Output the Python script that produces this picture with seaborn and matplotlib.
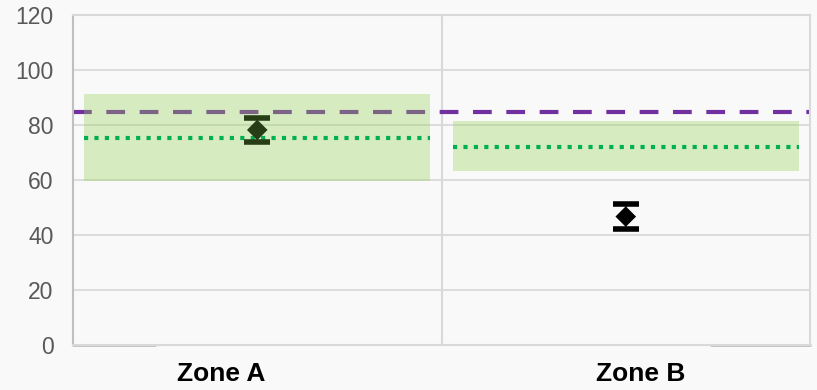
import matplotlib
matplotlib.use("Agg")
import matplotlib.pyplot as plt
import matplotlib.transforms as mtransforms
import seaborn as sns
import pandas as pd

# Zone summary values
zones = ["Zone A", "Zone B"]
range_low = [59.5, 63.4]
range_high = [91.3, 81.5]
zone_average = [75.3, 72.1]
measured = [78.2, 46.7]
measured_err = [4.5, 4.5]
target = 84.6
y_ticks = [0, 20, 40, 60, 80, 100, 120]

marker_colors = ["#263d16", "#000000"]

sns.set_theme(style="white")
plt.rcParams["font.family"] = ["Liberation Sans", "DejaVu Sans"]

fig = plt.figure(figsize=(8.17, 3.9), dpi=100, facecolor="#f9f9f9")
ax = fig.add_axes([73 / 817, 45 / 390, (810 - 73) / 817, (345 - 15) / 390])
ax.set_facecolor("#f9f9f9")

pos = list(range(len(zones)))
half = 0.47

# Target line across both zones
ax.axhline(target, color="#7030a0", lw=3, ls=(0, (4.5, 3.5)), zorder=2, clip_on=False)

# Acceptable ranges and zone averages
for i in pos:
    ax.fill_between([i - half, i + half], range_low[i], range_high[i],
                    color="#92d050", alpha=0.33, lw=0, zorder=3)
    ax.plot([i - half, i + half], [zone_average[i]] * 2, color="#00b050",
            lw=3, ls=(0, (1, 1.5)), zorder=4)

# Measured values with error bars
df = pd.DataFrame({"zone": pos, "value": measured, "err": measured_err})
for i in pos:
    ax.errorbar(df["zone"][i], df["value"][i], yerr=df["err"][i], fmt="none",
                ecolor="#808080", elinewidth=1.2, capsize=0, zorder=5)
    ax.errorbar(df["zone"][i], df["value"][i], yerr=df["err"][i], fmt="none",
                ecolor=marker_colors[i], elinewidth=0, capsize=9.5, capthick=4, zorder=5)
sns.scatterplot(data=df, x="zone", y="value", hue="zone", palette=marker_colors,
                marker="D", s=110, edgecolor="none", legend=False, zorder=6, ax=ax)

ax.set_xlim(-0.5, 1.5)
ax.set_ylim(0, 120)
ax.set_yticks(y_ticks)
ax.set_xticks(pos)
ax.set_xticklabels(zones, fontsize=19, fontweight="bold", color="black")
ax.tick_params(axis="y", labelsize=16.5, labelcolor="#595959", length=0, pad=14)
ax.tick_params(axis="x", length=0, pad=12)
ax.set_xlabel("")
ax.set_ylabel("")

# Category labels sit slightly off their tick centres
label_shift_px = [-36, 15]
for lbl, dx in zip(ax.get_xticklabels(), label_shift_px):
    lbl.set_transform(lbl.get_transform() +
                      mtransforms.ScaledTranslation(dx / 100, 0, fig.dpi_scale_trans))

# Gridlines and category separators
ax.grid(axis="y", color="#d9d9d9", lw=1.3)
ax.axvline(0.5, color="#d9d9d9", lw=1.5, zorder=1)
for s in ["left", "right", "top", "bottom"]:
    ax.spines[s].set_color("#d9d9d9")
    ax.spines[s].set_linewidth(1.5)
ax.spines["left"].set_color("#c0c0c0")
ax.set_axisbelow(True)

# Darker baseline stubs at both ends
ax.plot([0, 82 / 737], [0, 0], transform=ax.transAxes, color="#bfbfbf", lw=2, clip_on=False, zorder=1)
ax.plot([638 / 737, 1], [0, 0], transform=ax.transAxes, color="#bfbfbf", lw=2, clip_on=False, zorder=1)

fig.savefig("out.png", dpi=100, facecolor=fig.get_facecolor())
